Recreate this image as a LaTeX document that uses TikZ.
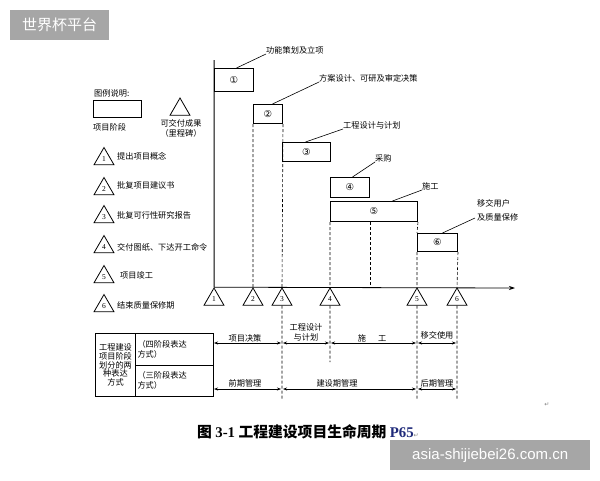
\documentclass[tikz,border=0pt]{standalone}
\usepackage{fontspec}
\setmainfont{Liberation Serif}
\newfontfamily\cjk{Noto Sans CJK SC}
\newfontfamily\dvs{DejaVu Sans}
\newfontfamily\wmfont{Liberation Sans}
\usetikzlibrary{shapes.geometric,arrows.meta}
\definecolor{wmgray}{HTML}{A6A6A6}
\definecolor{capblue}{HTML}{1F2A7A}
\begin{document}
\begin{tikzpicture}[x=1pt,y=-1pt,
  txt/.style={font=\cjk\fontsize{8.2}{10}\selectfont, inner sep=0pt},
  stagebox/.style={draw, line width=1pt, anchor=north west, inner sep=0pt, font=\dvs\fontsize{9.5}{10}\selectfont},
  mile/.style={draw, line width=0.8pt, regular polygon, regular polygon sides=3, minimum size=23pt, inner sep=0pt, font=\fontsize{7.5}{8}\selectfont},
  leader/.style={line width=0.6pt},
  dline/.style={line width=0.6pt, dash pattern=on 3pt off 2pt},
  dbl/.style={line width=0.6pt, {Stealth[length=4pt,width=3pt]}-{Stealth[length=4pt,width=3pt]}, shorten <=1pt, shorten >=1pt},
  cell/.style={draw, line width=1pt, inner sep=0pt, anchor=north west},
]
\useasboundingbox (0,0) rectangle (600,480);
\fill[white] (0,0) rectangle (600,480);

% watermarks
\node[fill=wmgray, minimum width=99pt, minimum height=30pt, anchor=north west, inner sep=0pt, font=\cjk\fontsize{15}{16}\selectfont, text=white] (wm1) at (10,10) {世界杯平台};
\node[fill=wmgray, minimum width=200pt, minimum height=30pt, anchor=north west, inner sep=0pt, font=\wmfont\fontsize{15}{16}\selectfont, text=white] (wm2) at (390,440) {asia-shijiebei26.com.cn};

% legend
\node[txt, anchor=west] (lgt) at (94,93) {图例说明:};
\node[cell, line width=0.9pt, minimum width=48pt, minimum height=17pt] (lgb) at (93,100) {};
\node[txt, anchor=west] (lgbt) at (93,127) {项目阶段};
\node[mile] (lgm) at (180,109.5) {};
\node[txt, align=center] (lgmt) at (181,128) {可交付成果\\（里程碑）};

\node[mile] (lt1) at (104,159) {1};
\node[txt, anchor=west] (ll1) at (117,156) {提出项目概念};
\node[mile] (lt2) at (104,189) {2};
\node[txt, anchor=west] (ll2) at (117,185) {批复项目建议书};
\node[mile] (lt3) at (104,217) {3};
\node[txt, anchor=west] (ll3) at (117,215) {批复可行性研究报告};
\node[mile] (lt4) at (104,247) {4};
\node[txt, anchor=west] (ll4) at (117,247) {交付图纸、下达开工命令};
\node[mile] (lt5) at (104,277) {5};
\node[txt, anchor=west] (ll5) at (120,275) {项目竣工};
\node[mile] (lt6) at (104,306) {6};
\node[txt, anchor=west] (ll6) at (117,305) {结束质量保修期};

% stage boxes
\coordinate (vtop) at (214,60);
\node[stagebox, minimum width=39pt, minimum height=23pt] (b1) at (214,68) {①};
\node[stagebox, minimum width=29pt, minimum height=19pt] (b2) at (253,104) {②};
\node[stagebox, minimum width=48pt, minimum height=19pt] (b3) at (282,142) {③};
\node[stagebox, minimum width=39pt, minimum height=20pt] (b4) at (330,177) {④};
\node[stagebox, minimum width=87pt, minimum height=20pt] (b5) at (330,201) {⑤};
\node[stagebox, minimum width=40pt, minimum height=18pt] (b6) at (417,233) {⑥};

% stage labels
\node[txt, anchor=west] (l1) at (266,50) {功能策划及立项};
\node[txt, anchor=west] (l2) at (319,78) {方案设计、可研及审定决策};
\node[txt, anchor=west] (l3) at (343,125) {工程设计与计划};
\node[txt, anchor=west] (l4) at (375,158) {采购};
\node[txt, anchor=west] (l5) at (422,186) {施工};
\node[txt, anchor=west, align=left, font=\cjk\fontsize{8.2}{14}\selectfont] (l6) at (477,210) {移交用户\\及质量保修};

\draw[leader] ([xshift=2.5pt]b1.north) -- (l1.south west);
\draw[leader] ([xshift=4.5pt]b2.north) -- (l2.south west);
\draw[leader] ([xshift=-1pt]b3.north) -- (l3.south west);
\draw[leader] ([xshift=2.5pt]b4.north) -- (l4.south west);
\draw[leader] ([xshift=18.5pt]b5.north) -- (l5.south west);
\draw[leader] ([xshift=5pt]b6.north) -- ([shift={(-2,-3)}]l6.south west);

% milestones on axis
\node[mile] (m1) at (214,299.5) {1};
\node[mile] (m2) at (253,299.5) {2};
\node[mile] (m3) at (282,299.5) {3};
\node[mile] (m4) at (330,299.5) {4};
\node[mile] (m5) at (417,299.5) {5};
\node[mile] (m6) at (457,299.5) {6};
\coordinate (axend) at (515,288);
\draw[line width=1pt] (vtop) -- (m1.north);
\draw[line width=0.8pt, -{Stealth[length=6pt,width=4pt]}] (m1.north) -- (axend);

% dashed guides
\draw[dline] (b2.south west) -- (m2.north);
\draw[dline] (b2.south east) -- (m3.north);
\draw[dline] (b5.south west) -- (m4.north);
\draw[dline] (b4.south east |- b5.south) -- (b4.south east |- m4.north);
\draw[dline] (b5.south east) -- (b6.north west);
\draw[dline] (b6.south west) -- (m5.north);
\draw[dline] (b6.south east) -- (m6.north);
\coordinate (d3) at (282,400);
\coordinate (d4) at (330,362);
\coordinate (d5) at (417,400);
\coordinate (d6) at (457,400);
\draw[dline] (m3.south) -- (d3);
\draw[dline] (m4.south) -- (d4);
\draw[dline] (m5.south) -- (d5);
\draw[dline] (m6.south) -- (d6);

% table
\node[cell, minimum width=40pt, minimum height=63pt, align=center, font=\cjk\fontsize{8.2}{8.8}\selectfont] (tl) at (95,333) {工程建设\\项目阶段\\划分的两\\种表达\\方式};
\node[cell, minimum width=78pt, minimum height=31.5pt, text width=74pt, align=left, font=\cjk\fontsize{8.2}{10}\selectfont] (tr) at (135,333) {（四阶段表达\\方式）};
\node[cell, minimum width=78pt, minimum height=31.5pt, text width=74pt, align=left, font=\cjk\fontsize{8.2}{10}\selectfont] (br) at (135,364.5) {（三阶段表达\\方式）};

\coordinate (r1a) at (213,343);
\coordinate (r1b) at (282,343);
\coordinate (r1c) at (330,343);
\coordinate (r1d) at (417,343);
\coordinate (r1e) at (457,343);
\coordinate (r2a) at (213,389);
\coordinate (r2b) at (282,389);
\coordinate (r2c) at (417,389);
\coordinate (r2d) at (457,389);
\draw[dbl] (r1a) -- (r1b);
\draw[dbl] (r1b) -- (r1c);
\draw[dbl] (r1c) -- (r1d);
\draw[dbl] (r1d) -- (r1e);
\draw[dbl] (r2a) -- (r2b);
\draw[dbl] (r2b) -- (r2c);
\draw[dbl] (r2c) -- (r2d);

\node[txt] (a1) at (245,338) {项目决策};
\node[txt, align=center, font=\cjk\fontsize{8.2}{10}\selectfont] (a2) at (306,332) {工程设计\\与计划};
\node[txt] (a3) at (372,338) {施\hspace{12pt}工};
\node[txt] (a4) at (437,335) {移交使用};
\node[txt] (c1) at (245,383) {前期管理};
\node[txt] (c2) at (337,383) {建设期管理};
\node[txt] (c3) at (437,383) {后期管理};

% caption
\node[anchor=west, inner sep=0pt, font=\cjk\bfseries\fontsize{14.8}{16}\selectfont] (cap) at (197,432) {图 {\rmfamily 3-1} 工程建设项目生命周期 {\rmfamily\color{capblue}P65}{\dvs\mdseries\fontsize{6}{7}\selectfont\color{gray}↵}};
\node[inner sep=0pt, font=\dvs\fontsize{6}{7}\selectfont, text=gray] (ret) at (547,405) {↵};
\end{tikzpicture}
\end{document}
